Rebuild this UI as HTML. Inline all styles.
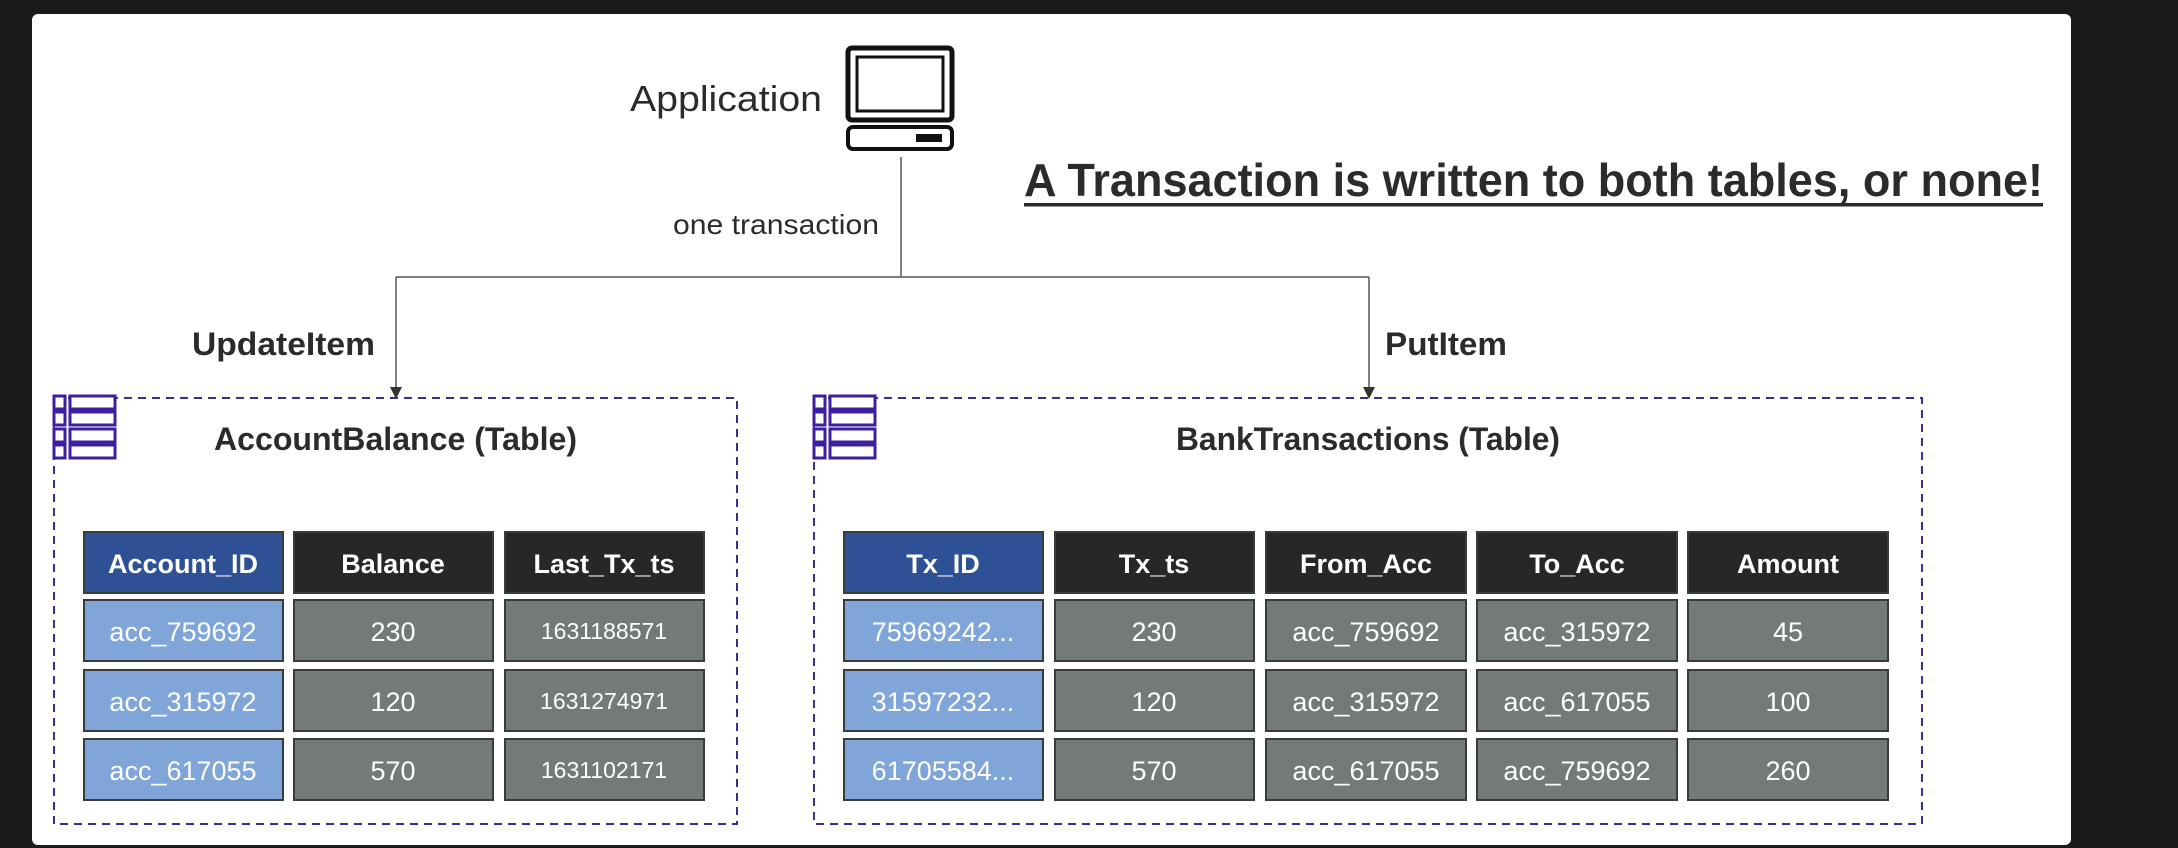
<!DOCTYPE html>
<html><head><meta charset="utf-8"><style>
html,body{margin:0;padding:0;background:#1b1b1b;}
svg{display:block}
text{font-family:"Liberation Sans",sans-serif;}
</style></head><body>
<svg width="2178" height="848" viewBox="0 0 2178 848" xmlns="http://www.w3.org/2000/svg">
<rect width="2178" height="848" fill="#1b1b1b"/>
<rect x="32" y="14" width="2039" height="831" rx="6" fill="#ffffff"/>

<!-- Application -->
<text x="630" y="111" font-size="36" fill="#2b2b2b" textLength="192" lengthAdjust="spacingAndGlyphs">Application</text>
<rect x="848" y="48" width="104" height="72" rx="4" fill="none" stroke="#111" stroke-width="5"/>
<rect x="857" y="57" width="86" height="54" fill="none" stroke="#111" stroke-width="3"/>
<rect x="848" y="127" width="104" height="22" rx="5" fill="none" stroke="#111" stroke-width="4"/>
<rect x="916" y="134" width="26" height="8" fill="#111"/>

<!-- connectors -->
<line x1="901" y1="157" x2="901" y2="277" stroke="#555" stroke-width="1.5"/>
<line x1="396" y1="277" x2="1369" y2="277" stroke="#555" stroke-width="1.5"/>
<line x1="396" y1="277" x2="396" y2="390" stroke="#555" stroke-width="1.5"/>
<line x1="1369" y1="277" x2="1369" y2="390" stroke="#555" stroke-width="1.5"/>
<polygon points="390,387 402,387 396,399" fill="#333"/>
<polygon points="1363,387 1375,387 1369,399" fill="#333"/>
<text x="673" y="234" font-size="28" fill="#2b2b2b" textLength="206" lengthAdjust="spacingAndGlyphs">one transaction</text>
<text x="192" y="355" font-size="32" font-weight="bold" fill="#2b2b2b" textLength="183" lengthAdjust="spacingAndGlyphs">UpdateItem</text>
<text x="1385" y="355" font-size="32" font-weight="bold" fill="#2b2b2b" textLength="122" lengthAdjust="spacingAndGlyphs">PutItem</text>

<!-- title -->
<text x="1024" y="196" font-size="46" font-weight="bold" fill="#2b2b2b" textLength="1019" lengthAdjust="spacingAndGlyphs">A Transaction is written to both tables, or none!</text>
<rect x="1024" y="203" width="1019" height="3.5" fill="#2b2b2b"/>

<!-- boxes -->
<rect x="54" y="398" width="683" height="426" fill="none" stroke="#3d2c8d" stroke-width="2" stroke-dasharray="8,6"/>
<rect x="814" y="398" width="1108" height="426" fill="none" stroke="#3d2c8d" stroke-width="2" stroke-dasharray="8,6"/>

<!-- table icons -->
<g fill="#fff" stroke="#3d1fa0" stroke-width="3">
<rect x="54" y="396" width="11" height="13"/><rect x="70" y="396" width="45" height="13"/>
<rect x="54" y="412" width="11" height="13"/><rect x="70" y="412" width="45" height="13"/>
<rect x="54" y="429" width="11" height="13"/><rect x="70" y="429" width="45" height="13"/>
<rect x="54" y="445" width="11" height="13"/><rect x="70" y="445" width="45" height="13"/>
<rect x="814" y="396" width="11" height="13"/><rect x="830" y="396" width="45" height="13"/>
<rect x="814" y="412" width="11" height="13"/><rect x="830" y="412" width="45" height="13"/>
<rect x="814" y="429" width="11" height="13"/><rect x="830" y="429" width="45" height="13"/>
<rect x="814" y="445" width="11" height="13"/><rect x="830" y="445" width="45" height="13"/>
</g>

<text x="214" y="450" font-size="32" font-weight="bold" fill="#2b2b2b" textLength="363" lengthAdjust="spacingAndGlyphs">AccountBalance (Table)</text>
<text x="1176" y="450" font-size="32" font-weight="bold" fill="#2b2b2b" textLength="384" lengthAdjust="spacingAndGlyphs">BankTransactions (Table)</text>

<!-- left table -->
<g stroke="#3a3c3b" stroke-width="2">
<rect x="84" y="532" width="199" height="61" fill="#2d5194"/>
<rect x="294" y="532" width="199" height="61" fill="#262826"/>
<rect x="505" y="532" width="199" height="61" fill="#262826"/>
<rect x="84" y="600" width="199" height="61" fill="#7fa5d9"/>
<rect x="294" y="600" width="199" height="61" fill="#737a77"/>
<rect x="505" y="600" width="199" height="61" fill="#737a77"/>
<rect x="84" y="670" width="199" height="61" fill="#7fa5d9"/>
<rect x="294" y="670" width="199" height="61" fill="#737a77"/>
<rect x="505" y="670" width="199" height="61" fill="#737a77"/>
<rect x="84" y="739" width="199" height="61" fill="#7fa5d9"/>
<rect x="294" y="739" width="199" height="61" fill="#737a77"/>
<rect x="505" y="739" width="199" height="61" fill="#737a77"/>
</g>
<g fill="#fff" text-anchor="middle" font-size="27">
<text x="183" y="573" font-weight="bold">Account_ID</text>
<text x="393" y="573" font-weight="bold">Balance</text>
<text x="604" y="573" font-weight="bold">Last_Tx_ts</text>
<text x="183" y="641">acc_759692</text><text x="393" y="641">230</text><text x="604" y="639" font-size="23">1631188571</text>
<text x="183" y="711">acc_315972</text><text x="393" y="711">120</text><text x="604" y="709" font-size="23">1631274971</text>
<text x="183" y="780">acc_617055</text><text x="393" y="780">570</text><text x="604" y="778" font-size="23">1631102171</text>
</g>

<!-- right table -->
<g stroke="#3a3c3b" stroke-width="2">
<rect x="844" y="532" width="199" height="61" fill="#2d5194"/>
<rect x="1055" y="532" width="199" height="61" fill="#262826"/>
<rect x="1266" y="532" width="200" height="61" fill="#262826"/>
<rect x="1477" y="532" width="200" height="61" fill="#262826"/>
<rect x="1688" y="532" width="200" height="61" fill="#262826"/>
<rect x="844" y="600" width="199" height="61" fill="#7fa5d9"/>
<rect x="1055" y="600" width="199" height="61" fill="#737a77"/>
<rect x="1266" y="600" width="200" height="61" fill="#737a77"/>
<rect x="1477" y="600" width="200" height="61" fill="#737a77"/>
<rect x="1688" y="600" width="200" height="61" fill="#737a77"/>
<rect x="844" y="670" width="199" height="61" fill="#7fa5d9"/>
<rect x="1055" y="670" width="199" height="61" fill="#737a77"/>
<rect x="1266" y="670" width="200" height="61" fill="#737a77"/>
<rect x="1477" y="670" width="200" height="61" fill="#737a77"/>
<rect x="1688" y="670" width="200" height="61" fill="#737a77"/>
<rect x="844" y="739" width="199" height="61" fill="#7fa5d9"/>
<rect x="1055" y="739" width="199" height="61" fill="#737a77"/>
<rect x="1266" y="739" width="200" height="61" fill="#737a77"/>
<rect x="1477" y="739" width="200" height="61" fill="#737a77"/>
<rect x="1688" y="739" width="200" height="61" fill="#737a77"/>
</g>
<g fill="#fff" text-anchor="middle" font-size="27">
<text x="943" y="573" font-weight="bold">Tx_ID</text>
<text x="1154" y="573" font-weight="bold">Tx_ts</text>
<text x="1366" y="573" font-weight="bold">From_Acc</text>
<text x="1577" y="573" font-weight="bold">To_Acc</text>
<text x="1788" y="573" font-weight="bold">Amount</text>
<text x="943" y="641">75969242...</text><text x="1154" y="641">230</text><text x="1366" y="641">acc_759692</text><text x="1577" y="641">acc_315972</text><text x="1788" y="641">45</text>
<text x="943" y="711">31597232...</text><text x="1154" y="711">120</text><text x="1366" y="711">acc_315972</text><text x="1577" y="711">acc_617055</text><text x="1788" y="711">100</text>
<text x="943" y="780">61705584...</text><text x="1154" y="780">570</text><text x="1366" y="780">acc_617055</text><text x="1577" y="780">acc_759692</text><text x="1788" y="780">260</text>
</g>
</svg>
</body></html>
